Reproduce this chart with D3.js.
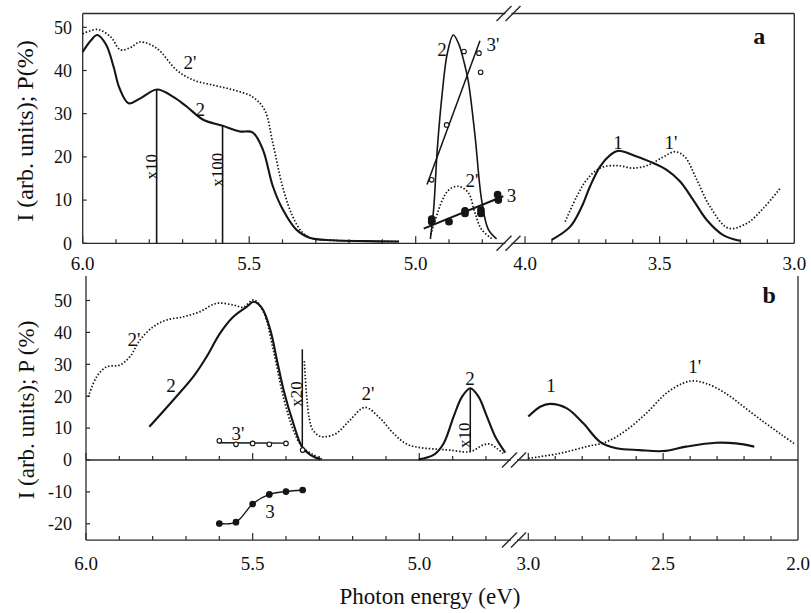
<!DOCTYPE html>
<html><head><meta charset="utf-8">
<script src="https://cdn.jsdelivr.net/npm/d3@7/dist/d3.min.js"></script>
<style>
body{margin:0;background:#fff;}
text{font-family:"Liberation Serif","Times New Roman","DejaVu Serif",serif;fill:#111;}
</style>
</head><body>
<script>
// ---------------- DATA (photon energy eV, value) ----------------
// Panel a
const a_curve2_left = [[6.0,44.3],[5.975,47.0],[5.956,48.2],[5.93,46.0],[5.907,40.8],[5.89,36.0],[5.862,32.4],[5.828,33.5],[5.777,35.6],[5.728,33.9],[5.687,31.6],[5.638,28.6],[5.58,27.2],[5.528,25.9],[5.49,25.7],[5.459,21.7],[5.429,13.2],[5.399,7.8],[5.359,3.2],[5.319,1.3],[5.25,0.7],[5.15,0.5],[5.05,0.4]];
const a_curve2p_left = [[6.0,48.5],[5.956,49.5],[5.916,47.8],[5.887,44.8],[5.857,45.3],[5.827,46.6],[5.777,45.1],[5.718,40.1],[5.668,37.8],[5.608,36.6],[5.548,35.5],[5.49,33.9],[5.454,30.9],[5.429,23.2],[5.40,13.2],[5.37,6.3],[5.34,2.5],[5.31,1.1],[5.25,0.7],[5.15,0.5],[5.05,0.4]];
const a_curve2_peak = [[4.956,1.0],[4.946,8.0],[4.935,22.0],[4.92,35.0],[4.905,44.0],[4.887,48.2],[4.87,46.0],[4.855,42.0],[4.842,37.5],[4.822,25.0],[4.802,10.0],[4.782,3.2],[4.757,1.0]];
const a_curve2p_peak = [[4.955,2.0],[4.92,10.0],[4.9,12.4],[4.872,13.2],[4.842,11.7],[4.822,7.0],[4.802,3.2],[4.772,1.1]];
const a_pts3p = [[4.952,14.7],[4.907,27.4],[4.855,44.4],[4.81,44.0],[4.805,39.6]];
const a_fit3p = [[4.966,13.6],[4.807,46.9]];
const a_pts3 = [[4.952,5.0],[4.952,5.6],[4.900,5.0],[4.852,6.9],[4.852,7.5],[4.804,7.7],[4.804,6.9],[4.752,10.0],[4.754,11.3]];
const a_fit3 = [[4.976,3.4],[4.737,10.9]];
const a_curve1 = [[3.901,0.8],[3.833,3.8],[3.789,8.5],[3.759,13.1],[3.722,17.7],[3.684,20.4],[3.654,21.4],[3.598,20.4],[3.536,18.9],[3.474,17.0],[3.424,14.3],[3.375,10.0],[3.325,5.4],[3.264,1.9],[3.202,0.6]];
const a_curve1p = [[3.851,5.0],[3.808,10.8],[3.771,14.7],[3.722,17.4],[3.659,18.0],[3.598,17.4],[3.542,18.1],[3.486,20.0],[3.443,21.2],[3.406,20.0],[3.362,14.7],[3.313,8.5],[3.245,3.5],[3.177,4.6],[3.115,8.1],[3.053,12.7]];
const a_markers = [[5.778,35.6,0,"x10"],[5.58,27.2,0,"x100"]];

// Panel b
const b_curve2p = [[5.993,19.8],[5.968,26.1],[5.938,29.2],[5.898,29.8],[5.868,32.4],[5.838,37.6],[5.798,41.8],[5.758,43.9],[5.708,44.9],[5.658,46.5],[5.608,49.1],[5.558,48.6],[5.528,47.9],[5.497,50.2],[5.468,46.5],[5.438,34.5],[5.408,19.8],[5.378,9.4],[5.352,4.2],[5.317,1.6],[5.292,0.2]];
const b_curve2p_x20 = [[5.345,31.0],[5.338,20.0],[5.33,13.0],[5.32,9.5],[5.30,7.5],[5.28,7.3],[5.248,8.4],[5.208,12.5],[5.163,16.5],[5.118,13.1],[5.078,8.4],[5.038,5.0],[4.998,3.9],[4.95,3.4],[4.908,3.1],[4.848,2.6],[4.808,4.7],[4.788,5.0],[4.768,3.7],[4.748,2.1]];
const b_curve2 = [[5.81,10.4],[5.738,18.8],[5.678,26.1],[5.638,32.4],[5.598,39.7],[5.558,44.9],[5.517,48.1],[5.497,49.6],[5.472,47.6],[5.447,40.8],[5.427,31.3],[5.407,21.9],[5.378,11.5],[5.352,4.2],[5.327,1.6],[5.297,0.2]];
const b_curve2_peak = [[5.002,0.2],[4.957,1.6],[4.927,5.2],[4.897,13.6],[4.872,19.8],[4.847,22.5],[4.822,19.8],[4.797,13.6],[4.772,7.3],[4.742,2.3]];
const b_curve1 = [[3.0,13.6],[2.956,16.7],[2.919,17.6],[2.857,16.2],[2.796,11.5],[2.734,5.7],[2.673,3.7],[2.587,3.1],[2.501,2.8],[2.415,4.2],[2.304,5.4],[2.23,5.2],[2.162,4.2]];
const b_curve1p = [[3.0,0.5],[2.882,2.1],[2.784,4.2],[2.71,5.7],[2.636,9.4],[2.563,14.6],[2.489,20.9],[2.428,24.0],[2.391,24.8],[2.341,24.0],[2.268,20.9],[2.194,16.2],[2.12,11.5],[2.059,7.8],[2.01,4.9]];
const b_pts3p = [[5.6,6.0],[5.55,4.9],[5.5,5.2],[5.45,4.9],[5.4,5.2],[5.35,3.1]];
const b_fit3p = [[5.6,5.4],[5.4,5.3]];
const b_pts3 = [[5.6,-19.9],[5.55,-19.5],[5.5,-13.8],[5.45,-10.8],[5.4,-9.9],[5.35,-9.4]];
const b_markers = [[5.351,34.7,3.1,"x20"],[4.847,22.5,2.6,"x10"]];

// Ticks
const aYTicks = [0,10,20,30,40,50];
const bYTicks = [-20,-10,0,10,20,30,40,50];
const aXTicks1 = [6.0,5.9,5.8,5.7,5.6,5.5,5.4,5.3,5.2,5.1,5.0,4.9,4.8];
const aXTicks2 = [4.0,3.9,3.8,3.7,3.6,3.5,3.4,3.3,3.2,3.1];
const bXTicks1 = [6.0,5.9,5.8,5.7,5.6,5.5,5.4,5.3,5.2,5.1,5.0,4.9,4.8];
const bXTicks2 = [3.0,2.9,2.8,2.7,2.6,2.5,2.4,2.3,2.2,2.1];
const aXLabels1 = ["6.0","5.5","5.0"], aXLabels2 = ["4.0","3.5","3.0"];
const bXLabels1 = ["6.0","5.5","5.0"], bXLabels2 = ["3.0","2.5","2.0"];
const majorTicks = [6.0,5.5,5.0,4.0,3.5,3.0,2.5,2.0];

// ---------------- SCALES ----------------
const W=811,H=613;
const svg = d3.select("body").append("svg").attr("width",W).attr("height",H);
const xa1 = d3.scaleLinear().domain([6,5]).range([82.7,415.7]);
const xa2 = d3.scaleLinear().domain([4,3]).range([525,794.3]);
const ya  = d3.scaleLinear().domain([0,50]).range([243.3,27.3]);
const xb1 = d3.scaleLinear().domain([6,5]).range([86,419.3]);
const xb2 = d3.scaleLinear().domain([3,2]).range([528.3,798]);
const yb  = d3.scaleLinear().domain([0,50]).range([460,300.5]);

const INK="#151515", AX="#2a2a2a";

function curve(data,xs,ys,dotted,w){
  const ln = d3.line().x(d=>xs(d[0])).y(d=>ys(d[1])).curve(d3.curveCatmullRom.alpha(0.5));
  const p = svg.append("path").attr("d",ln(data)).attr("fill","none").attr("stroke",INK)
    .attr("stroke-width",w|| (dotted?1.7:2.1)).attr("stroke-linejoin","round");
  if(dotted) p.attr("stroke-dasharray","1.5,1.9");
  return p;
}
function straight(data,xs,ys,w){
  svg.append("path").attr("d",d3.line().x(d=>xs(d[0])).y(d=>ys(d[1]))(data))
    .attr("fill","none").attr("stroke",INK).attr("stroke-width",w||1.6);
}
function points(data,xs,ys,filled,r){
  svg.append("g").selectAll("circle").data(data).join("circle")
    .attr("cx",d=>xs(d[0])).attr("cy",d=>ys(d[1])).attr("r",r)
    .attr("fill",filled?INK:"#fff").attr("stroke",INK).attr("stroke-width",1.1);
}
function hline(x1,x2,y,w){
  svg.append("line").attr("x1",x1).attr("x2",x2).attr("y1",y).attr("y2",y).attr("stroke",AX).attr("stroke-width",w||1.3);
}
function vline(x,y1,y2,w,c){
  svg.append("line").attr("x1",x).attr("x2",x).attr("y1",y1).attr("y2",y2).attr("stroke",c||AX).attr("stroke-width",w||1.3);
}
function brk(cx,cy){
  [-4.5,4.5].forEach(o=>{
    svg.append("line").attr("x1",cx+o-7.5).attr("y1",cy+7.5).attr("x2",cx+o+7.5).attr("y2",cy-7.5)
      .attr("stroke",AX).attr("stroke-width",1.4);
  });
}
function xticks(vals,xs,y){
  vals.forEach(v=>{
    const major = majorTicks.some(m=>Math.abs(m-v)<1e-6);
    vline(xs(v),y,y-(major?7:4),1.2);
  });
}
function xlabels(labels,xs,y){
  labels.forEach(l=>svg.append("text").attr("x",xs(+l)).attr("y",y).attr("text-anchor","middle")
    .attr("font-size",19).text(l));
}
function ylabels(vals,ys,xAxis,xr){
  vals.forEach(v=>{
    svg.append("line").attr("x1",xAxis).attr("x2",xAxis+4).attr("y1",ys(v)).attr("y2",ys(v)).attr("stroke",AX).attr("stroke-width",1.2);
    svg.append("text").attr("x",xr).attr("y",ys(v)).attr("dy","0.35em").attr("text-anchor","end").attr("font-size",18).text(v);
  });
}
function label(t,x,y,size,rot,bold){
  const tx = svg.append("text").attr("x",x).attr("y",y).attr("dy","0.35em").attr("text-anchor","middle")
    .attr("font-size",size||19).text(t);
  if(rot) tx.attr("transform",`rotate(-90,${x},${y})`);
  if(bold) tx.attr("font-weight","bold");
}

// ---------------- PANEL A FRAME ----------------
const aTop=ya(53.2), aBot=ya(0), aL=xa1(6), aR=xa2(3);
const aBrk=508.5;
hline(aL,aBrk-3,aTop); hline(aBrk+3,aR,aTop);
hline(aL,aBrk-3,aBot); hline(aBrk+3,aR,aBot);
vline(aL,aTop,aBot); vline(aR,aTop,aBot);
brk(aBrk,aTop); brk(aBrk,aBot);
xticks(aXTicks1,xa1,aBot); xticks(aXTicks2,xa2,aBot);
xlabels(aXLabels1,xa1,270); xlabels(aXLabels2,xa2,270);
ylabels(aYTicks,ya,aL,72);
svg.append("text").attr("transform",`translate(33,131) rotate(-90)`).attr("text-anchor","middle")
  .attr("font-size",24).text("I (arb. units); P(%)");

// ---------------- PANEL A DATA ----------------
curve(a_curve2p_left,xa1,ya,true);
curve(a_curve2_left,xa1,ya,false);
a_markers.forEach(m=>vline(xa1(m[0]),ya(m[1]),ya(m[2]),1.6,INK));
curve(a_curve2p_peak,xa1,ya,true);
curve(a_curve2_peak,xa1,ya,false,1.6);
straight(a_fit3p,xa1,ya,1.5);
points(a_pts3p,xa1,ya,false,2.3);
straight(a_fit3,xa1,ya,2);
points(a_pts3,xa1,ya,true,3.3);
curve(a_curve1p,xa2,ya,true);
curve(a_curve1,xa2,ya,false);

label("2'",xa1(5.678),ya(42.0));
label("2",xa1(5.647),ya(30.9));
label("x10",xa1(5.795),ya(17.7),17,true);
label("x100",xa1(5.598),ya(17.0),17,true);
label("2",xa1(4.921),ya(45.0));
label("3'",xa1(4.768),ya(46.0));
label("2'",xa1(4.831),ya(14.6));
label("3",xa1(4.712),ya(11.0));
label("1",xa2(3.655),ya(23.4));
label("1'",xa2(3.458),ya(23.4));
label("a",xa2(3.13),ya(48.0),24,false,true);

// ---------------- PANEL B FRAME ----------------
const bTop=yb(57.7), bZero=yb(0), bBot=yb(-25.1), bL=xb1(6), bR=xb2(2);
const bBrk=514;
vline(bL,bTop,bBot); vline(bR,bTop,bBot);
hline(bL,bBrk-3,bZero); hline(bBrk+3,bR,bZero);
hline(bL,bBrk-3,bBot); hline(bBrk+3,bR,bBot);
brk(bBrk,bZero); brk(bBrk,bBot);
xticks(bXTicks1,xb1,bZero); xticks(bXTicks2,xb2,bZero);
xticks(bXTicks1,xb1,bBot); xticks(bXTicks2,xb2,bBot);
xlabels(bXLabels1,xb1,570); xlabels(bXLabels2,xb2,570);
ylabels(bYTicks,yb,bL,72);
svg.append("text").attr("transform",`translate(34,410) rotate(-90)`).attr("text-anchor","middle")
  .attr("font-size",23).text("I (arb. units); P (%)");
svg.append("text").attr("x",430).attr("y",604).attr("text-anchor","middle").attr("font-size",23).text("Photon energy (eV)");

// ---------------- PANEL B DATA ----------------
curve(b_curve2p,xb1,yb,true);
curve(b_curve2p_x20,xb1,yb,true);
curve(b_curve2,xb1,yb,false);
b_markers.forEach(m=>vline(xb1(m[0]),yb(m[1]),yb(m[2]),1.5,INK));
curve(b_curve2_peak,xb1,yb,false);
curve(b_curve1p,xb2,yb,true);
curve(b_curve1,xb2,yb,false);
straight(b_fit3p,xb1,yb,1.4);
points(b_pts3p,xb1,yb,false,2.3);
curve(b_pts3,xb1,yb,false,1.4);
points(b_pts3,xb1,yb,true,2.8);

label("2'",xb1(5.856),yb(37.9));
label("2",xb1(5.745),yb(23.5));
label("3'",xb1(5.544),yb(8.5));
label("x20",xb1(5.37),yb(20.7),17,true);
label("2'",xb1(5.154),yb(21.0));
label("3",xb1(5.448),yb(-16.0));
label("2",xb1(4.848),yb(25.7));
label("x10",xb1(4.866),yb(7.8),17,true);
label("1",xb2(2.916),yb(23.5));
label("1'",xb2(2.383),yb(29.5));
label("b",xb2(2.107),yb(52.0),24,false,true);
</script>
</body></html>
